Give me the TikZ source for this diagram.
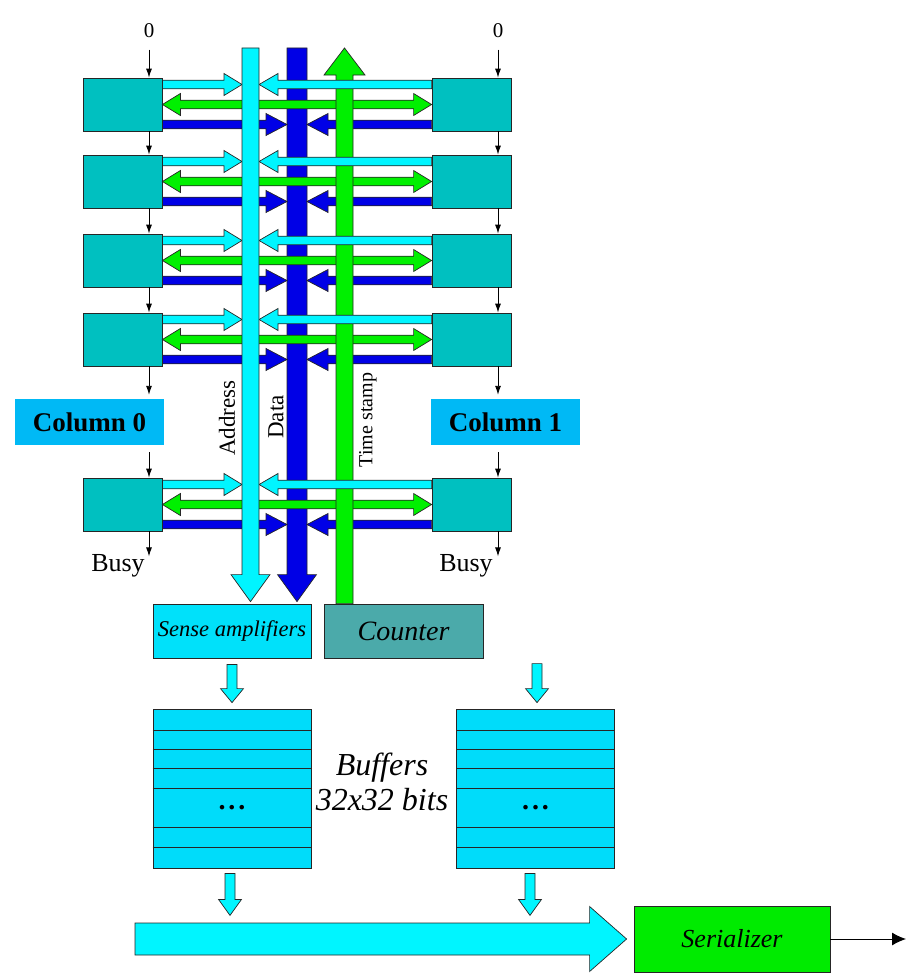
\documentclass[tikz,border=0pt]{standalone}
\usepackage{fontspec}
\setmainfont{Liberation Serif}
\usetikzlibrary{calc,arrows.meta}

\definecolor{cellc}{RGB}{0,192,192}
\definecolor{addrc}{RGB}{0,245,255}
\definecolor{datac}{RGB}{0,0,230}
\definecolor{stampc}{RGB}{0,240,0}
\definecolor{colc}{RGB}{0,185,245}
\definecolor{sensec}{RGB}{0,225,250}
\definecolor{countc}{RGB}{75,170,170}
\definecolor{bufc}{RGB}{0,220,250}
\definecolor{serc}{RGB}{0,235,0}

% block arrow: fill, from, to, half shaft, half head, head length
\newcommand\fatarrow[6]{%
  \coordinate (fa) at ($(#3)!#6!(#2)$);
  \draw[fatline, fill=#1] ($(#2)!#4!90:(#3)$) -- ($(fa)!#4!90:(#3)$) -- ($(fa)!#5!90:(#3)$) -- (#3)
    -- ($(fa)!#5!-90:(#3)$) -- ($(fa)!#4!-90:(#3)$) -- ($(#2)!#4!-90:(#3)$) -- cycle;}

\tikzset{
  cell/.style={draw=black!85, line width=0.8pt, fill=cellc, minimum width=79pt, minimum height=53pt, inner sep=0pt},
  fatline/.style={draw=black!85, line width=0.7pt, line join=miter},
  flow/.style={-{Latex[length=9pt,width=6pt]}, line width=0.9pt},
  colbox/.style={fill=colc, minimum width=149pt, minimum height=46pt, inner sep=0pt, font=\fontsize{27}{30}\selectfont\bfseries},
  unit/.style={draw=black!85, line width=0.8pt, minimum height=54pt, inner sep=0pt},
  buslabel/.style={rotate=90, inner sep=0pt, font=\fontsize{23}{26}\selectfont},
  plain/.style={font=\fontsize{#1}{#1}\selectfont},
}

\begin{document}
\begin{tikzpicture}[x=1pt,y=-1pt]
  \useasboundingbox (0,0) rectangle (914,974);

  % the cells of both columns
  \foreach \i/\yc in {1/104.5,2/181.5,3/260.5,4/339.5,5/504.5} {
      \node[cell] (L\i) at (122.5,\yc) {};
      \node[cell] (R\i) at (471.5,\yc) {};
    }
  \node[colbox] (col0) at (89.5,422) {Column 0};
  \node[colbox] (col1) at (505.5,422) {Column 1};

  % blocks below the buses
  \node[unit, fill=sensec, minimum width=158pt, font=\fontsize{22.5}{24}\selectfont\itshape] (sense) at (232,631) {Sense amplifiers};
  \node[unit, fill=countc, minimum width=159pt, font=\fontsize{28}{30}\selectfont\itshape] (counter) at (403.5,631) {Counter};
  \node[unit, fill=bufc, minimum width=158pt, minimum height=159pt] (buf0) at (232,788.5) {};
  \node[unit, fill=bufc, minimum width=158pt, minimum height=159pt] (buf1) at (535.5,788.5) {};
  \node[unit, fill=serc, minimum width=196pt, minimum height=66pt, font=\fontsize{26}{28}\selectfont\itshape] (ser) at (732,939) {Serializer};

  % bus ends and edges
  \coordinate (addr-top) at (250.5,48);
  \coordinate (data-top) at (297,48);
  \coordinate (stamp-top) at (344.5,48);
  \coordinate (addr-bot) at ($(addr-top |- sense.north)+(0,-2)$);
  \coordinate (data-bot) at ($(data-top |- sense.north)+(0,-2)$);
  \coordinate (stamp-bot) at (stamp-top |- counter.north);
  \coordinate (addr-l) at (242,0);
  \coordinate (addr-r) at (259,0);
  \coordinate (data-l) at (287,0);
  \coordinate (data-r) at (307,0);

  \foreach \i in {1,...,5} {
      \coordinate (cl\i) at ([yshift=20pt]L\i.east);
      \coordinate (cr\i) at ([yshift=20pt]R\i.west);
      \coordinate (gl\i) at (L\i.east);
      \coordinate (gr\i) at (R\i.west);
      \coordinate (bl\i) at ([yshift=-20pt]L\i.east);
      \coordinate (br\i) at ([yshift=-20pt]R\i.west);
      \coordinate (ca\i) at (cl\i -| addr-l);
      \coordinate (cb\i) at (cr\i -| addr-r);
      \coordinate (gs\i) at (gl\i -| stamp-top);
      \coordinate (bd\i) at (bl\i -| data-l);
      \coordinate (be\i) at (br\i -| data-r);
    }

  % data bus, then the crossing arrows
  \fatarrow{datac}{data-top}{data-bot}{10pt}{19.5pt}{27pt}
  \foreach \i in {1,...,5} {
      \fatarrow{stampc}{gs\i}{gl\i}{4.3pt}{11pt}{18pt}
      \fatarrow{stampc}{gs\i}{gr\i}{4.3pt}{11pt}{18pt}
      \fatarrow{datac}{bl\i}{bd\i}{4.3pt}{11pt}{21pt}
      \fatarrow{datac}{br\i}{be\i}{4.3pt}{11pt}{21pt}
    }
  \fatarrow{stampc}{stamp-bot}{stamp-top}{8.5pt}{20.5pt}{27pt}
  \foreach \i in {1,...,5} {
      \fatarrow{addrc}{cl\i}{ca\i}{4.3pt}{11pt}{18pt}
      \fatarrow{addrc}{cr\i}{cb\i}{4.3pt}{11pt}{19pt}
    }
  \fatarrow{addrc}{addr-top}{addr-bot}{8.5pt}{19.5pt}{27pt}

  % bus names
  \node[buslabel] (addr-lab) at (227,418) {Address};
  \node[buslabel] (data-lab) at (276,417) {Data};
  \node[buslabel, font=\fontsize{20}{24}\selectfont] (stamp-lab) at (368,420) {Time stamp};

  % busy chain
  \node[plain=21] (zero0) at (149,31) {0};
  \node[plain=21] (zero1) at (498,31) {0};
  \node[plain=26] (busy0) at (118,566) {Busy};
  \node[plain=26] (busy1) at (466,566) {Busy};
  \draw[flow] ([yshift=-8pt]zero0.south) -- (L1.north -| zero0);
  \draw[flow] ([yshift=-8pt]zero1.south) -- (R1.north -| zero1);
  \foreach \i/\j in {1/2,2/3,3/4} {
      \draw[flow] (L\i.south -| zero0) -- (L\j.north -| zero0);
      \draw[flow] (R\i.south -| zero1) -- (R\j.north -| zero1);
    }
  \draw[flow] (L4.south -| zero0) -- ($(col0.north -| zero0)+(0,-4)$);
  \draw[flow] (R4.south -| zero1) -- ($(col1.north -| zero1)+(0,-4)$);
  \draw[flow] ($(col0.south -| zero0)+(0,7)$) -- (L5.north -| zero0);
  \draw[flow] ($(col1.south -| zero1)+(0,7)$) -- (R5.north -| zero1);
  \coordinate (end0) at ($(L5.south -| zero0)+(0,25)$);
  \coordinate (end1) at ($(R5.south -| zero1)+(0,25)$);
  \draw[flow] (L5.south -| zero0) -- (end0);
  \draw[flow] (R5.south -| zero1) -- (end1);

  % buffers
  \foreach \b in {buf0,buf1} {
      \foreach \d in {22,41,60,80,119,139}
        \draw[line width=0.8pt, black!85] ($(\b.north west)+(0,\d)$) -- ($(\b.north east)+(0,\d)$);
      \node[font=\fontsize{28}{30}\selectfont\bfseries] (\b-dots) at ($(\b.north)+(0,99.5)$) {.\kern3pt.\kern3pt.};
    }
  \node[align=center, font=\fontsize{32}{35}\selectfont\itshape] (buf-lab) at (382,782) {Buffers\\32x32 bits};

  \coordinate (sense-out) at ($(sense.south)+(0,6)$);
  \coordinate (buf0-in) at ($(buf0.north)+(0,-6)$);
  \coordinate (buf1-top) at ($(buf1.north)+(1.5,-45)$);
  \coordinate (buf1-in) at ($(buf1.north)+(1.5,-6)$);
  \fatarrow{addrc}{sense-out}{buf0-in}{5pt}{11.5pt}{14pt}
  \fatarrow{addrc}{buf1-top}{buf1-in}{5pt}{11.5pt}{14pt}

  % output side
  \coordinate (buf0-out) at ($(buf0.south)+(-2,5)$);
  \coordinate (buf0-down) at ($(buf0.south)+(-2,47)$);
  \coordinate (buf1-out) at ($(buf1.south)+(-5.5,5)$);
  \coordinate (buf1-down) at ($(buf1.south)+(-5.5,47)$);
  \fatarrow{addrc}{buf0-out}{buf0-down}{5pt}{11.5pt}{16pt}
  \fatarrow{addrc}{buf1-out}{buf1-down}{5pt}{11.5pt}{16pt}
  \coordinate (bus-in) at (135,939);
  \coordinate (bus-out) at ($(ser.west)+(-7,0)$);
  \fatarrow{addrc}{bus-in}{bus-out}{16pt}{32.5pt}{37pt}
  \coordinate (out) at (906,939);
  \draw[-{Latex[length=14pt,width=13pt]}, line width=1pt] (ser.east) -- (out);
\end{tikzpicture}
\end{document}
